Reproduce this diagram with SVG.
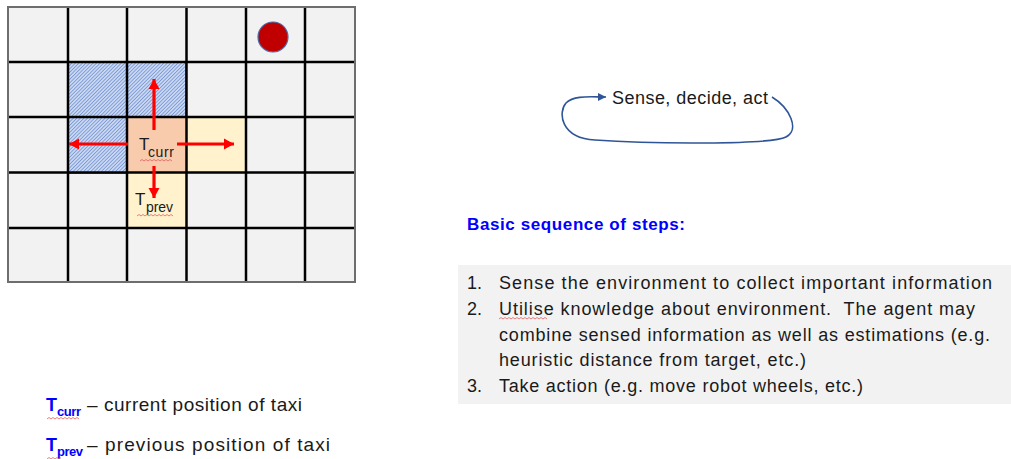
<svg xmlns="http://www.w3.org/2000/svg" width="1011" height="459" viewBox="0 0 1011 459">
<style>
.txt{font-family:"Liberation Sans",Arial,sans-serif;fill:#1a1a1a}
.cell{fill:#F2F2F2}
.gl{stroke:#000;stroke-width:2.5;fill:none}
.hatch{fill:url(#hatch);stroke:#2F5597;stroke-width:1.5}
.red{stroke:#FF0000;stroke-width:3.2;fill:none}
.sq{stroke:#E06060;stroke-width:0.8;fill:none}
.blue{fill:#0000FF;font-weight:bold;font-family:"Liberation Sans",Arial,sans-serif}
.li{font-size:18px}
</style>
<defs>
<pattern id="hatch" width="2.5" height="2.5" patternUnits="userSpaceOnUse" patternTransform="rotate(-45)">
<rect width="2.5" height="2.5" fill="#C9D7F0"/>
<line x1="0" y1="0" x2="2.5" y2="0" stroke="#5B80CC" stroke-width="1.2"/>
</pattern>
<marker id="rh" markerUnits="userSpaceOnUse" markerWidth="12" markerHeight="12" refX="10" refY="6" orient="auto">
<path d="M0,0.5 L10,6 L0,11.5 Z" fill="#FF0000"/>
</marker>
<marker id="bh" markerUnits="userSpaceOnUse" markerWidth="10" markerHeight="10" refX="8" refY="5" orient="auto">
<path d="M0,1 L8,5 L0,9 Z" fill="#2F5597"/>
</marker>
</defs>

<g id="grid">
<rect x="8" y="7" width="347" height="275" class="cell"/>
<rect x="68" y="62" width="59" height="55" class="hatch"/>
<rect x="127" y="62" width="59" height="55" class="hatch"/>
<rect x="68" y="117" width="59" height="56" class="hatch"/>
<rect x="127" y="117" width="59" height="56" fill="#F8CBAD"/>
<rect x="186" y="117" width="60" height="56" fill="#FFF2CC"/>
<rect x="127" y="173" width="59" height="55" fill="#FFF2CC"/>
<path class="gl" d="M68,7V282 M127,7V282 M186.5,7V282 M246,7V282 M305,7V282 M8,62H355 M8,117H355 M8,172.5H355 M8,228H355"/>
<rect x="8" y="7" width="347" height="275" fill="none" stroke="#6E6E6E" stroke-width="2"/>
</g>

<g id="target">
<circle cx="273" cy="37" r="15" fill="#C00000" stroke="#4A6BAA" stroke-width="1.2"/>
</g>

<g id="t-curr">
<text class="txt" x="139" y="150" font-size="17">T</text>
<text class="txt" x="148" y="157" font-size="14" textLength="26">curr</text>
<path class="sq" d="M140,161 l2,-1.5 l2,1.5 l2,-1.5 l2,1.5 l2,-1.5 l2,1.5 l2,-1.5 l2,1.5 l2,-1.5 l2,1.5 l2,-1.5 l2,1.5 l2,-1.5 l2,1.5 l2,-1.5 l2,1.5"/>
</g>

<g id="t-prev">
<text class="txt" x="135" y="205" font-size="17">T</text>
<text class="txt" x="146" y="212" font-size="14" textLength="27">prev</text>
<path class="sq" d="M137,216 l2,-1.5 l2,1.5 l2,-1.5 l2,1.5 l2,-1.5 l2,1.5 l2,-1.5 l2,1.5 l2,-1.5 l2,1.5 l2,-1.5 l2,1.5 l2,-1.5 l2,1.5 l2,-1.5 l2,1.5 l2,-1.5 l2,1.5"/>
</g>

<g id="loop-label">
<text class="txt" x="612" y="104" font-size="18" textLength="156">Sense, decide, act</text>
</g>

<g id="connectors">
<line class="red" x1="154" y1="130" x2="154" y2="79" marker-end="url(#rh)"/>
<line class="red" x1="128" y1="144" x2="69" y2="144" marker-end="url(#rh)"/>
<line class="red" x1="177" y1="144" x2="234" y2="144" marker-end="url(#rh)"/>
<line class="red" x1="154" y1="166" x2="154" y2="198" marker-end="url(#rh)"/>
<path d="M772,97 C790,108 800,130 786,137 C770,145 650,144 595,140 C560,138 558,112 566,103 C574,95 590,97 606,97" fill="none" stroke="#2F5597" stroke-width="1.6" marker-end="url(#bh)"/>
</g>

<g id="heading">
<text class="blue" x="467" y="230" font-size="17" textLength="218">Basic sequence of steps:</text>
</g>

<g id="steps">
<rect x="458" y="265" width="553" height="139" fill="#F2F2F2"/>
<text class="txt li" x="467" y="289">1.</text>
<text class="txt li" x="499" y="289" textLength="493">Sense the environment to collect important information</text>
<text class="txt li" x="467" y="315">2.</text>
<text class="txt li" x="499" y="315" textLength="476" xml:space="preserve">Utilise knowledge about environment.  The agent may</text>
<path class="sq" d="M499,319 l2,-1.5 l2,1.5 l2,-1.5 l2,1.5 l2,-1.5 l2,1.5 l2,-1.5 l2,1.5 l2,-1.5 l2,1.5 l2,-1.5 l2,1.5 l2,-1.5 l2,1.5 l2,-1.5 l2,1.5 l2,-1.5 l2,1.5 l2,-1.5 l2,1.5 l2,-1.5 l2,1.5 l2,-1.5 l2,1.5"/>
<text class="txt li" x="499" y="341" textLength="491">combine sensed information as well as estimations (e.g.</text>
<text class="txt li" x="499" y="366" textLength="307">heuristic distance from target, etc.)</text>
<text class="txt li" x="467" y="392">3.</text>
<text class="txt li" x="499" y="392" textLength="364">Take action (e.g. move robot wheels, etc.)</text>
</g>

<g id="legend">
<text class="blue" x="46" y="411" font-size="18">T</text>
<text class="blue" x="57" y="416" font-size="13" textLength="24">curr</text>
<text class="txt" x="87" y="411" font-size="19" textLength="215">– current position of taxi</text>
<path class="sq" d="M47,419 l2,-1.5 l2,1.5 l2,-1.5 l2,1.5 l2,-1.5 l2,1.5 l2,-1.5 l2,1.5 l2,-1.5 l2,1.5 l2,-1.5 l2,1.5 l2,-1.5 l2,1.5 l2,-1.5 l2,1.5"/>
<text class="blue" x="46" y="451" font-size="18">T</text>
<text class="blue" x="57" y="456" font-size="13" textLength="26">prev</text>
<text class="txt" x="87" y="451" font-size="19" textLength="243">– previous position of taxi</text>
<path class="sq" d="M47,459 l2,-1.5 l2,1.5 l2,-1.5 l2,1.5 l2,-1.5 l2,1.5 l2,-1.5"/>
</g>
</svg>
